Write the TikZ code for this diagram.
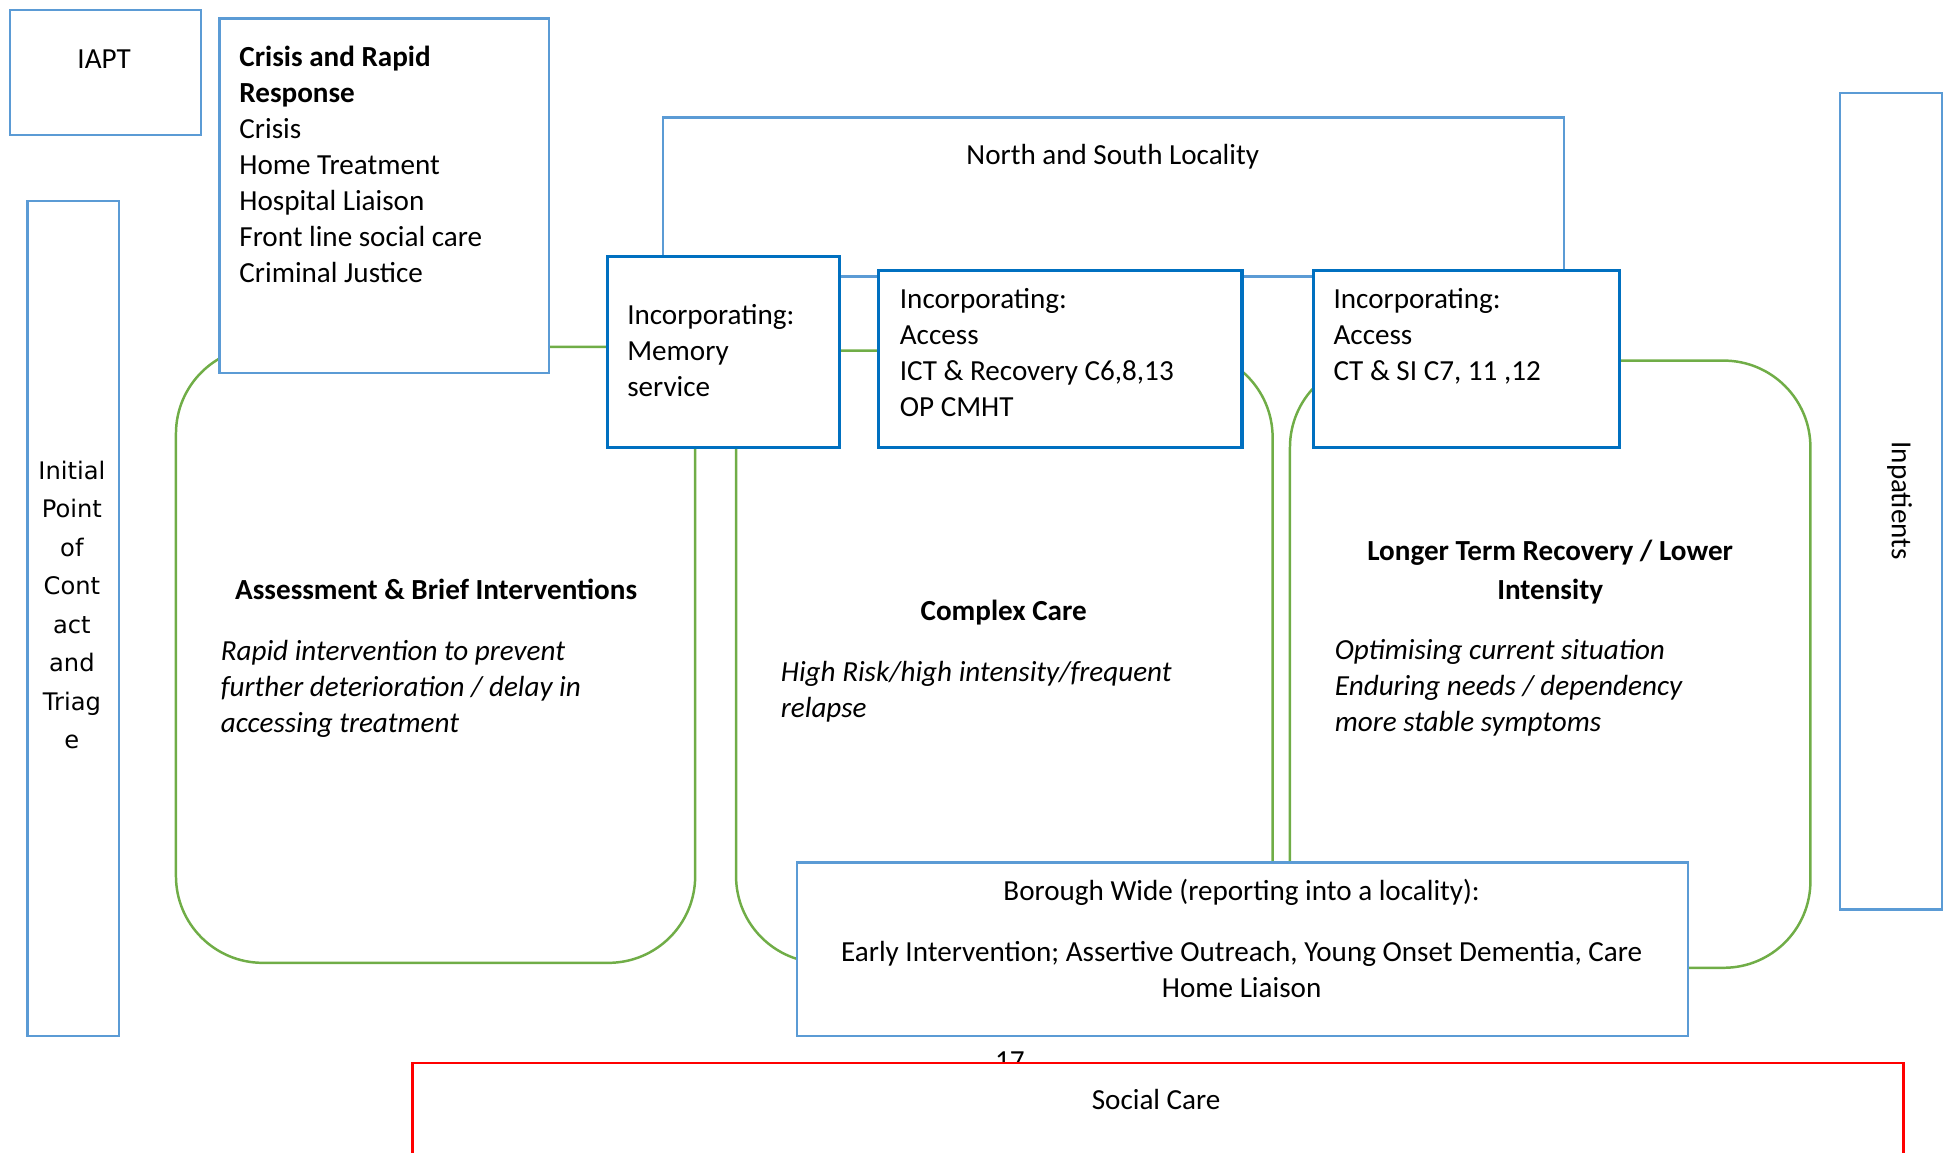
\documentclass[tikz,border=0pt]{standalone}
\usepackage{fontspec}
\setmainfont{Carlito}
\newfontfamily\widefont{DejaVu Sans}
\usepackage{tikz}
\usetikzlibrary{positioning}
\definecolor{lblue}{RGB}{91,155,213}
\definecolor{dblue}{RGB}{0,112,192}
\definecolor{grn}{RGB}{112,173,71}
\definecolor{redline}{RGB}{255,0,0}
\tikzset{
  lbox/.style={draw=lblue, line width=2pt, fill=white, inner sep=0pt, anchor=north west},
  dbox/.style={draw=dblue, line width=2.5pt, fill=white, inner sep=0pt, anchor=north west},
  region/.style={draw=grn, line width=2pt, rounded corners=70pt},
  txt/.style={inner sep=0pt, font=\fontsize{23.5}{29}\selectfont},
  lefttxt/.style={txt, align=left, anchor=base west},
}
\begin{document}
\begin{tikzpicture}[x=1pt, y=1pt]
\useasboundingbox (0,0) rectangle (1568,-930);

%draw green regions
\draw[region] (142,-280) rectangle (561,-777);
\draw[region] (594,-283) rectangle (1027,-777);
\draw[region] (1041,-291) rectangle (1461,-781);

%draw outer boxes
\node[lbox, minimum width=154pt, minimum height=101pt] (iapt) at (7,-7) {};
\node[lbox, minimum width=266pt, minimum height=286pt] (crisis) at (176,-14) {};
\node[lbox, minimum width=74pt, minimum height=674pt] (initial) at (21,-161) {};
\node[lbox, minimum width=82pt, minimum height=659pt] (inpatients) at (1484,-74) {};
\node[lbox, minimum width=727pt, minimum height=128pt] (locality) at (534,-94) {};

%draw locality teams
\node[dbox, minimum width=187pt, minimum height=154pt] (memory) at (489,-206) {};
\node[dbox, minimum width=293pt, minimum height=143pt] (ict) at (708,-217) {};
\node[dbox, minimum width=247pt, minimum height=143pt] (ctsi) at (1059,-217) {};

%borough wide
\node[lbox, minimum width=719pt, minimum height=140pt] (borough) at (642,-695) {};

%page number and social care
\node[txt, anchor=base] (pagenum) at (815,-864) {17};
\node[draw=redline, line width=2pt, fill=white, inner sep=0pt, anchor=north west,
      minimum width=1203pt, minimum height=120pt] (social) at (332,-857) {};

%labels (base = last line)
\node[txt, anchor=base] at (84,-55) {IAPT};
\node[lefttxt] at (193,-228) {\textbf{Crisis and Rapid}\\\textbf{Response}\\Crisis\\Home Treatment\\Hospital Liaison\\Front line social care\\Criminal Justice};
\node[inner sep=0pt, align=center, anchor=base, font=\widefont\fontsize{19.5}{31}\selectfont] at (58,-604) {Initial\\Point\\of\\Cont\\act\\and\\Triag\\e};
\node[txt, rotate=-90] at (1533,-404) {Inpatients};
\node[txt, anchor=base] at (898,-133) {North and South Locality};
\node[lefttxt] at (506,-320) {Incorporating:\\Memory\\service};
\node[lefttxt] at (726,-336) {Incorporating:\\Access\\ICT \& Recovery C6,8,13\\OP CMHT};
\node[lefttxt] at (1076,-307) {Incorporating:\\Access\\CT \& SI C7, 11 ,12};

\node[txt, anchor=base, font=\fontsize{23.5}{29}\selectfont\bfseries] at (352,-484) {Assessment \& Brief Interventions};
\node[lefttxt, font=\fontsize{23.5}{29}\selectfont\itshape] at (178,-591) {Rapid intervention to prevent\\further deterioration / delay in\\accessing treatment};
\node[txt, anchor=base, font=\fontsize{23.5}{29}\selectfont\bfseries] at (810,-501) {Complex Care};
\node[lefttxt, font=\fontsize{23.5}{29}\selectfont\itshape] at (630,-579) {High Risk/high intensity/frequent\\relapse};
\node[txt, anchor=base, align=center, font=\fontsize{23.5}{32}\selectfont\bfseries] at (1251,-484) {Longer Term Recovery / Lower\\Intensity};
\node[lefttxt, font=\fontsize{23.5}{29}\selectfont\itshape] at (1077,-590) {Optimising current situation\\Enduring needs / dependency\\more stable symptoms};

\node[txt, anchor=base, align=center] at (1002,-805) {Borough Wide (reporting into a locality):\\[20pt]Early Intervention; Assertive Outreach, Young Onset Dementia, Care\\Home Liaison};
\node[txt, anchor=base] at (933,-895) {Social Care};
\end{tikzpicture}
\end{document}
